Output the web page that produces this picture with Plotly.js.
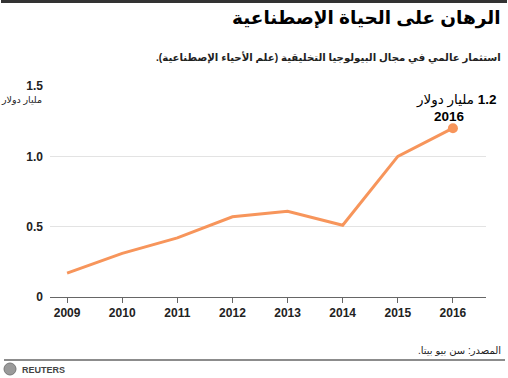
<!DOCTYPE html>
<html>
<head>
<meta charset="utf-8">
<script src="https://cdn.plot.ly/plotly-3.0.1.min.js"></script>
<style>html,body{margin:0;padding:0;background:#fff;}#chart{width:508px;height:378px;}</style>
</head>
<body>
<div id="chart"></div>
<script>
const years = [2009, 2010, 2011, 2012, 2013, 2014, 2015, 2016];
const investment = [0.17, 0.31, 0.42, 0.57, 0.61, 0.51, 1.0, 1.2];
const yTickVals = [0, 0.5, 1.0, 1.5];
const yTickText = ['0', '0.5', '1.0', '1.5'];
const titleText = 'الرهان على الحياة الإصطناعية';
const subtitleText = 'استثمار عالمي في مجال البيولوجيا التخليقية (علم الأحياء الإصطناعية).';
const unitText = 'مليار دولار';
const sourceText = 'المصدر: سن بيو بيتا.';
const lastLabel = '1.2';
const lastYear = '2016';

const RLE = '\u202B', PDF = '\u202C';
const rtl = s => RLE + s + PDF;
const FONT = 'Liberation Sans, Arial, DejaVu Sans, sans-serif';
const ORANGE = '#f7955b';

// pixel helpers for paper coords (plot area: x 50..486, y 86..297)
const L = 50, R = 22, T = 86, B = 81, W = 508 - L - R, H = 378 - T - B;
const px = x => (x - L) / W;
const py = y => (378 - B - y) / H;

const traces = [
  {
    x: years, y: investment, type: 'scatter', mode: 'lines',
    line: {color: ORANGE, width: 3}, hoverinfo: 'skip', cliponaxis: false
  },
  {
    x: [years[years.length - 1]], y: [investment[investment.length - 1]],
    type: 'scatter', mode: 'markers',
    marker: {color: ORANGE, size: 10}, hoverinfo: 'skip', cliponaxis: false
  }
];

const layout = {
  width: 508, height: 378,
  margin: {l: L, r: R, t: T, b: B},
  paper_bgcolor: '#fff', plot_bgcolor: '#fff',
  showlegend: false,
  font: {family: FONT, color: '#000'},
  xaxis: {
    range: [2008.69, 2016.6], tickvals: years, ticktext: years.map(String),
    ticks: 'outside', ticklen: 5, tickcolor: '#666', tickwidth: 1,
    showline: true, linecolor: '#666', linewidth: 1,
    showgrid: false, zeroline: false,
    tickfont: {family: FONT, size: 12, weight: 'bold', color: '#222'}
  },
  yaxis: {
    range: [0, 1.5], tickvals: yTickVals, ticktext: yTickText,
    showgrid: true, gridcolor: '#e3e3e3', gridwidth: 1,
    zeroline: false, showline: false, ticks: '', ticklabelstandoff: 6,
    tickfont: {family: FONT, size: 12, weight: 'bold', color: '#222'}
  },
  shapes: [
    {type: 'line', xref: 'paper', yref: 'paper', x0: px(1), x1: px(507), y0: py(1.5), y1: py(1.5),
     line: {color: '#333', width: 3}},
    {type: 'line', xref: 'paper', yref: 'paper', x0: px(4), x1: px(505), y0: py(360), y1: py(360),
     line: {color: '#666', width: 1.5}},
    {type: 'circle', xref: 'paper', yref: 'paper', x0: px(4), x1: px(16), y0: py(375), y1: py(363),
     fillcolor: '#9a9a9a', line: {color: '#777', width: 1}}
  ],
  annotations: [
    {xref: 'paper', yref: 'paper', x: px(503), y: py(18), xanchor: 'right', yanchor: 'middle',
     text: rtl(titleText), showarrow: false,
     font: {family: FONT, size: 18.5, weight: 'bold', color: '#000'}},
    {xref: 'paper', yref: 'paper', x: px(503), y: py(57), xanchor: 'right', yanchor: 'middle',
     text: rtl(subtitleText), showarrow: false,
     font: {family: FONT, size: 10.2, weight: 'bold', color: '#222'}},
    {xref: 'paper', yref: 'paper', x: px(44), y: py(99), xanchor: 'right', yanchor: 'middle',
     text: rtl(unitText), showarrow: false,
     font: {family: FONT, size: 9.5, color: '#222'}},
    {xref: 'paper', yref: 'paper', x: px(498), y: py(100), xanchor: 'right', yanchor: 'middle',
     text: rtl('<b>' + lastLabel + '</b> ' + unitText), showarrow: false,
     font: {family: FONT, size: 13.5, color: '#000'}},
    {xref: 'paper', yref: 'paper', x: px(449), y: py(116), xanchor: 'center', yanchor: 'middle',
     text: '<b>' + lastYear + '</b>', showarrow: false,
     font: {family: FONT, size: 13.5, color: '#000'}},
    {xref: 'paper', yref: 'paper', x: px(503), y: py(350), xanchor: 'right', yanchor: 'middle',
     text: rtl(sourceText), showarrow: false,
     font: {family: FONT, size: 10, color: '#222'}},
    {xref: 'paper', yref: 'paper', x: px(20), y: py(369.5), xanchor: 'left', yanchor: 'middle',
     text: '<b>REUTERS</b>', showarrow: false,
     font: {family: FONT, size: 9, color: '#444'}}
  ]
};

Plotly.newPlot('chart', traces, layout, {staticPlot: true, displayModeBar: false});
</script>
</body>
</html>
